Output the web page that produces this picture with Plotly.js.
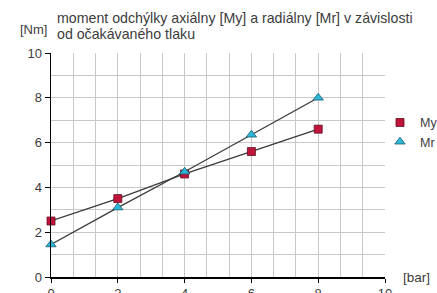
<!DOCTYPE html>
<html><head><meta charset="utf-8">
<script src="https://cdn.plot.ly/plotly-3.0.1.min.js"></script>
<style>html,body{margin:0;padding:0;background:#fff}</style>
</head><body><div id="c" style="width:437px;height:293px"></div>
<script>
const pressure = [0, 2, 4, 6, 8];
const myValues = [2.5, 3.5, 4.6, 5.6, 6.6];
const mrValues = [1.45, 3.1, 4.7, 6.35, 8.0];
const seriesNames = ['My', 'Mr'];
const xTicks = [0, 2, 4, 6, 8, 10];
const yTicks = [0, 2, 4, 6, 8, 10];
const titleLines = ['moment odchýlky axiálny [My] a radiálny [Mr] v závislosti', 'od očakávaného tlaku'];

const font = 'Liberation Sans, Arial, Helvetica, sans-serif';
const txt = '#3c3c3c';
const myMarker = {symbol: 'square', size: 8, color: '#c0143c', line: {color: '#5a1020', width: 0.8}};
const mrMarker = {symbol: 'triangle-up', size: 9, color: '#2bb8d8', line: {color: '#1a5a70', width: 0.8}};
const traces = [
  {x: pressure, y: myValues, name: seriesNames[0], mode: 'lines+markers', cliponaxis: false, showlegend: false,
   line: {color: '#3a3a3a', width: 1.3}, marker: myMarker},
  {x: pressure, y: mrValues, name: seriesNames[1], mode: 'lines+markers', cliponaxis: false, showlegend: false,
   line: {color: '#3a3a3a', width: 1.3}, marker: mrMarker},
  {x: [null], y: [null], name: seriesNames[0], mode: 'markers', marker: myMarker},
  {x: [null], y: [null], name: seriesNames[1], mode: 'markers', marker: mrMarker}
];
const layout = {
  width: 437, height: 293,
  margin: {l: 51, r: 52, t: 53, b: 16, autoexpand: false},
  paper_bgcolor: '#fff', plot_bgcolor: '#fff',
  font: {family: font, size: 13, color: txt},
  showlegend: true,
  legend: {x: 0.985, y: 0.755, xanchor: 'left', yanchor: 'top', font: {size: 12.5, color: txt},
           tracegroupgap: 0, itemwidth: 30, bgcolor: 'rgba(0,0,0,0)'},
  xaxis: {range: [0, 10], tickvals: xTicks, ticktext: xTicks.map(String), showgrid: true,
          gridcolor: '#c8c8c8', gridwidth: 1, zeroline: false,
          showline: true, linecolor: '#000', linewidth: 1.5, ticks: 'outside', ticklen: 4,
          tickcolor: '#000', tickfont: {size: 13, color: txt},
          minor: {dtick: 2/3, tick0: 0, showgrid: true, gridcolor: '#c8c8c8', gridwidth: 1, ticks: ''}},
  yaxis: {range: [0, 10], tickvals: yTicks, ticktext: yTicks.map(String), showgrid: true,
          gridcolor: '#c8c8c8', gridwidth: 1, zeroline: false,
          showline: true, linecolor: '#000', linewidth: 1.5, ticks: 'outside', ticklen: 5,
          tickcolor: '#000', tickfont: {size: 13, color: txt},
          minor: {dtick: 1, showgrid: true, gridcolor: '#c8c8c8', gridwidth: 1, ticks: ''}},
  annotations: [
    {xref: 'paper', yref: 'paper', x: -0.1, y: 1.107, xanchor: 'left', yanchor: 'middle',
     text: '[Nm]', showarrow: false, font: {size: 13, color: txt}},
    {xref: 'paper', yref: 'paper', x: 0.013, y: 1.156, xanchor: 'left', yanchor: 'middle',
     text: titleLines[0], showarrow: false, font: {size: 14.2, color: txt}},
    {xref: 'paper', yref: 'paper', x: 0.013, y: 1.085, xanchor: 'left', yanchor: 'middle',
     text: titleLines[1], showarrow: false, font: {size: 14.2, color: txt}},
    {xref: 'paper', yref: 'paper', x: 1.048, y: 0.0, xanchor: 'left', yanchor: 'middle',
     text: '[bar]', showarrow: false, font: {size: 13.5, color: txt}}
  ]
};
Plotly.newPlot('c', traces, layout, {displayModeBar: false, staticPlot: true});
</script></body></html>
